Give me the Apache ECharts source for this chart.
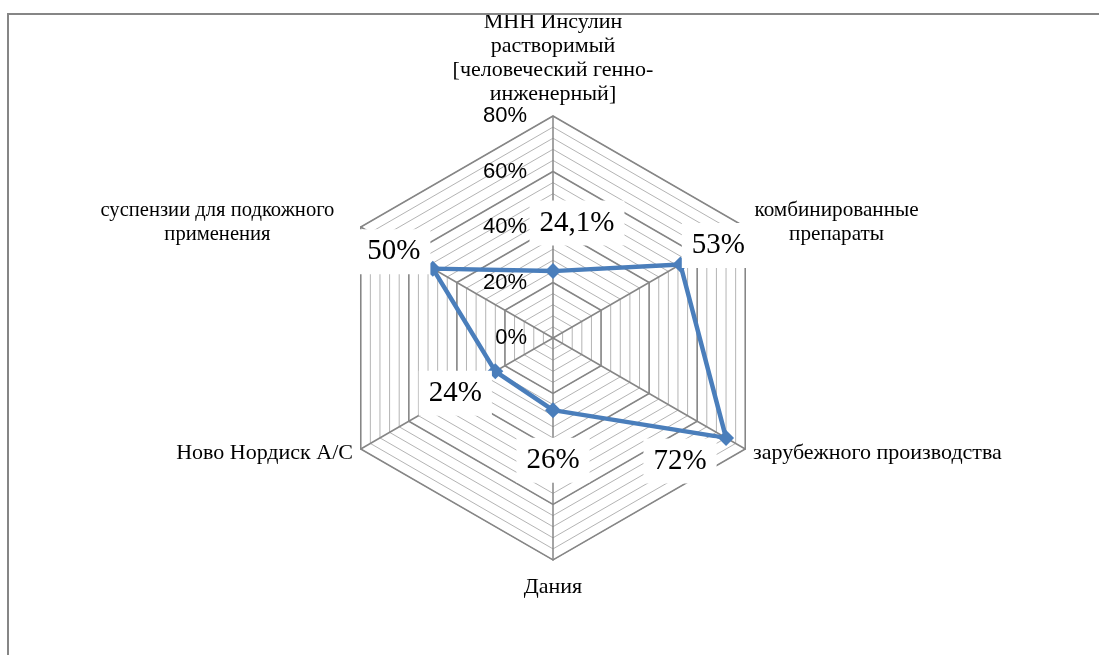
<!DOCTYPE html>
<html>
<head>
<meta charset="utf-8">
<script src="https://cdn.jsdelivr.net/npm/echarts@6/dist/echarts.min.js"></script>
<style>html,body{margin:0;padding:0;background:#fff}#c{width:1099px;height:655px}</style>
</head>
<body>
<div id="c"></div>
<script>
// Data in the reference's clockwise order, starting at the top
const categories = [
  'МНН Инсулин\nрастворимый\n[человеческий генно-\nинженерный]',
  'комбинированные\nпрепараты',
  'зарубежного производства',
  'Дания',
  'Ново Нордиск А/С',
  'суспензии для подкожного\nприменения'
];
const values = [24.1, 53, 72, 26, 24, 50];
const valueLabels = ['24,1%', '53%', '72%', '26%', '24%', '50%'];
const tickValues = [0, 20, 40, 60, 80];
const axisMax = 80;

// label offsets / name gaps (style, not data)
const labelOffsets = [[24, -48], [38, -19], [-46, 23], [0, 50], [-40, 22], [-39, -17]];
const nameGaps = [9, 9, 9, 15, 9, 9];

// ECharts radar goes counter-clockwise: reorder
const ccw = [0, 5, 4, 3, 2, 1];
const center = [553, 338];
const radius = 222;

const baseName = { fontFamily: 'Liberation Serif', fontSize: 22, lineHeight: 24, color: '#000', align: 'center' };
const nameRich = {
  c: Object.assign({}, baseName),
  l: Object.assign({}, baseName, { fontSize: 20.6, width: 271 }),
  r: Object.assign({}, baseName, { fontSize: 21.2, width: 167 })
};
const nameToken = ['c', 'r', 'c', 'c', 'c', 'l'];

const indicatorMinor = ccw.map(i => ({ name: '', max: axisMax, min: 0 }));
const indicatorMajor = ccw.map((i, k) => {
  const o = { name: categories[i], max: axisMax, min: 0, nameGap: nameGaps[i] };
  if (k === 0) {
    o.axisLabel = {
      show: true, color: '#000', fontFamily: 'Liberation Sans', fontSize: 22,
      margin: 26, formatter: v => v + '%'
    };
  }
  return o;
});

const chart = echarts.init(document.getElementById('c'), null, { renderer: 'canvas' });
chart.setOption({
  backgroundColor: '#fff',
  animation: false,
  graphic: [{
    type: 'rect', z: 100,
    shape: { x: 8, y: 14, width: 1300, height: 800 },
    style: { fill: null, stroke: '#868686', lineWidth: 2 }
  }],
  radar: [{
    center: center, radius: radius, shape: 'polygon', startAngle: 90,
    splitNumber: 20,
    indicator: indicatorMinor,
    axisName: { show: false },
    axisLine: { show: false },
    axisTick: { show: false },
    axisLabel: { show: false },
    splitArea: { show: false },
    splitLine: { lineStyle: { color: '#b4b4b4', width: 1 } }
  }, {
    center: center, radius: radius, shape: 'polygon', startAngle: 90,
    splitNumber: 4,
    indicator: indicatorMajor,
    axisName: {
      formatter: function (name) {
        const idx = categories.indexOf(name);
        return '{' + nameToken[idx] + '|' + name + '}';
      },
      rich: nameRich
    },
    axisLine: { lineStyle: { color: '#868686', width: 1.5 } },
    axisTick: { show: false },
    axisLabel: { show: false },
    splitArea: { show: false },
    splitLine: { lineStyle: { color: '#868686', width: 1.5 } }
  }],
  polar: { center: center, radius: radius },
  angleAxis: {
    type: 'category', data: categories, startAngle: 120, clockwise: true,
    show: false, boundaryGap: true
  },
  radiusAxis: { type: 'value', min: 0, max: axisMax, show: false },
  series: [{
    type: 'radar', radarIndex: 1, z: 5,
    symbol: 'diamond', symbolSize: 16,
    lineStyle: { color: '#4a7ebb', width: 4.5 },
    itemStyle: { color: '#4a7ebb' },
    data: [{ value: ccw.map(i => values[i]) }]
  }, {
    type: 'scatter', coordinateSystem: 'polar', z: 10,
    symbolSize: 1, itemStyle: { color: 'rgba(0,0,0,0)', opacity: 1 },
    data: values.map((v, i) => ({
      value: [v, i],
      label: {
        show: true, position: 'inside', offset: labelOffsets[i],
        formatter: valueLabels[i],
        fontFamily: 'Liberation Serif', fontSize: 29, lineHeight: 33, color: '#000',
        textBorderWidth: 0,
        backgroundColor: '#fff', padding: [6, 10]
      }
    }))
  }]
});
</script>
</body>
</html>
